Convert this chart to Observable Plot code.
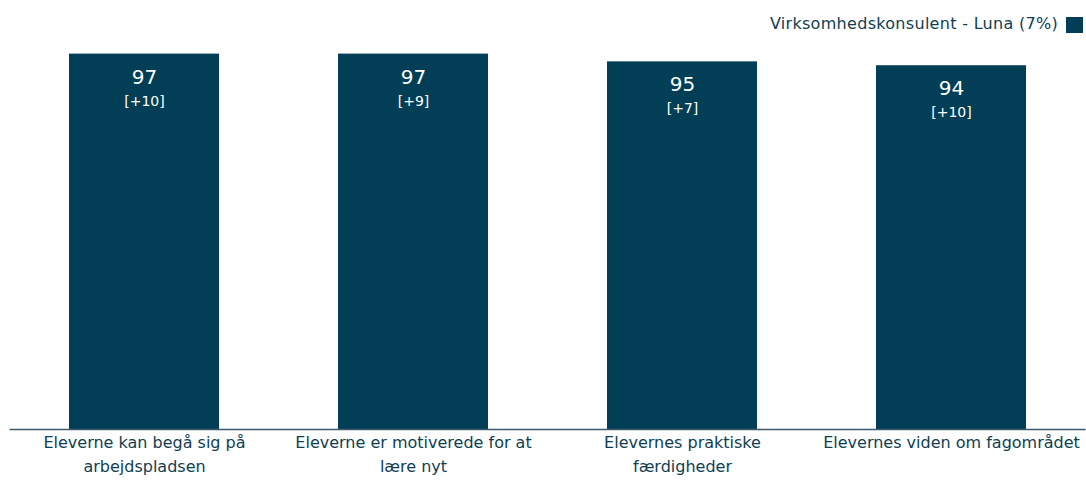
<!DOCTYPE html>
<html>
<head>
<meta charset="utf-8">
<script src="https://cdn.jsdelivr.net/npm/d3@7"></script>
<script src="https://cdn.jsdelivr.net/npm/@observablehq/plot@0.6"></script>
<style>
  html, body { margin: 0; padding: 0; background: #fff; }
  body { width: 1086px; height: 480px; overflow: hidden; font-family: "DejaVu Sans", Verdana, sans-serif; }
  #legend { height: 40px; position: relative; }
  #legend .lbl { position: absolute; right: 28px; top: 14px; font-size: 16px; letter-spacing: 0.3px; color: #0f3e52; white-space: nowrap; }
  #legend .sw { position: absolute; left: 1066px; top: 17px; width: 17px; height: 16px; background: #023f56; }
</style>
</head>
<body>
<div id="legend"><span class="lbl">Virksomhedskonsulent - Luna (7%)</span><span class="sw"></span></div>
<div id="chart"></div>
<script>
const categories = [
  "Eleverne kan begå sig på\narbejdspladsen",
  "Eleverne er motiverede for at\nlære nyt",
  "Elevernes praktiske\nfærdigheder",
  "Elevernes viden om fagområdet"
];
const values = [97, 97, 95, 94];
const changes = ["[+10]", "[+9]", "[+7]", "[+10]"];

const data = categories.map((c, i) => ({cat: c, value: values[i], change: changes[i]}));

const chart = Plot.plot({
  width: 1086,
  height: 440,
  marginLeft: 9.5,
  marginRight: 0.5,
  marginTop: 2,
  marginBottom: 51,
  style: {fontFamily: "DejaVu Sans, Verdana, sans-serif", background: "#fff"},
  x: {domain: categories, paddingInner: 0.4424, paddingOuter: 0.2212, axis: null},
  y: {domain: [0, 100], axis: null},
  marks: [
    Plot.barY(data, {x: "cat", y: "value", fill: "#023f56"}),
    Plot.ruleY([0], {stroke: "#3f5a6b", strokeWidth: 1.5}),
    Plot.text(data, {x: "cat", y: "value", text: d => String(d.value), dy: 23, fill: "#fff", fontSize: 20}),
    Plot.text(data, {x: "cat", y: "value", text: "change", dy: 47, fill: "#fff", fontSize: 14}),
    Plot.text(data, {x: "cat", y: 0, text: "cat", dy: 1, lineAnchor: "top", lineHeight: 1.5, fill: "#0f3e52", fontSize: 16})
  ]
});
document.getElementById("chart").appendChild(chart);
</script>
</body>
</html>
